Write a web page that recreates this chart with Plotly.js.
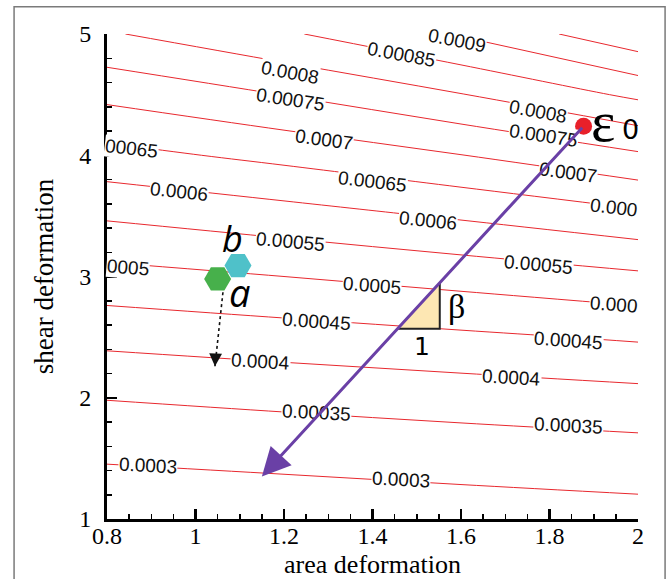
<!DOCTYPE html>
<html>
<head>
<meta charset="utf-8">
<script src="https://cdn.plot.ly/plotly-3.0.1.min.js"></script>
<style>html,body{margin:0;padding:0;background:#fff;}#chart{width:669px;height:579px;}</style>
</head>
<body>
<div id="chart"></div>
<script>
const xGrid = [0.8, 1.2, 1.6, 2.0];
const yGrid = [1.0, 1.5, 2.0, 2.5, 3.0, 3.5, 4.0, 4.5, 5.0];
const zGrid = [
  [2.62e-4, 2.69e-4, 2.75e-4, 2.82e-4],
  [3.04e-4, 3.11e-4, 3.19e-4, 3.26e-4],
  [3.52e-4, 3.62e-4, 3.72e-4, 3.83e-4],
  [4.14e-4, 4.27e-4, 4.41e-4, 4.56e-4],
  [4.83e-4, 5.00e-4, 5.19e-4, 5.41e-4],
  [5.56e-4, 5.79e-4, 6.06e-4, 6.38e-4],
  [6.34e-4, 6.64e-4, 6.99e-4, 7.43e-4],
  [7.13e-4, 7.51e-4, 7.98e-4, 8.60e-4],
  [7.95e-4, 8.43e-4, 9.04e-4, 9.87e-4]
];
const levelStart = 0.0003, levelEnd = 0.00095, levelStep = 0.00005;

// Contour label texts as printed on the figure (some are cut by the axes)
const contourLabelTexts = [
  '0.0003', '0.0003', '0.00035', '0.00035', '0.0004', '0.0004',
  '0.00045', '0.00045', '0005', '0.0005', '0.000', '0.00055', '0.00055',
  '0.0006', '0.0006', '00065', '0.00065', '0.000', '0.0007', '0.0007',
  '0.00075', '0.00075', '0.0008', '0.0008', '0.00085', '0.0009'
];

// Markers
const eps0X = [1.877], eps0Y = [4.24];
const pointAX = [1.05], pointAY = [2.98];
const pointBX = [1.096], pointBY = [3.09];
// dotted arrow from a (tail, tip)
const dotArrowX = [1.062, 1.044], dotArrowY = [2.87, 2.26];
// purple arrow (tail at eps0, tip)
const arrowStart = [1.877, 4.24], arrowEnd = [1.15, 1.35];
// slope triangle
const triX = [1.457, 1.552, 1.552, 1.457];
const triY = [2.57, 2.57, 2.948, 2.57];
const triEdgeX = [1.457, 1.552, 1.552];
const triEdgeY = [2.57, 2.57, 2.948];

// placement of the contour labels: [x, y, angle]
const labelPlacement = [
  [0.893, 1.445, 3], [1.464, 1.322, 3],
  [1.274, 1.882, 3], [1.842, 1.775, 3],
  [1.148, 2.295, 3.3], [1.715, 2.171, 3.3],
  [1.274, 2.625, 4], [1.842, 2.476, 4],
  [0.848, 3.078, 4.4], [1.399, 2.922, 4.4], [1.946, 2.773, 4.4],
  [1.214, 3.285, 5.2], [1.774, 3.095, 5.2],
  [0.962, 3.697, 6], [1.526, 3.466, 6],
  [0.855, 4.053, 6.7], [1.401, 3.780, 6.7], [1.946, 3.570, 6.7],
  [1.290, 4.128, 7.8], [1.842, 3.854, 7.8],
  [1.214, 4.456, 8.7], [1.786, 4.160, 8.7],
  [1.214, 4.686, 10.5], [1.774, 4.360, 10.5],
  [1.466, 4.827, 10.5], [1.591, 4.950, 11]
];

const traces = [
  {
    type: 'contour', x: xGrid, y: yGrid, z: zGrid,
    autocontour: false,
    contours: {start: levelStart, end: levelEnd, size: levelStep, coloring: 'none', showlabels: false},
    line: {color: '#e8282e', width: 1, smoothing: 1},
    showscale: false, hoverinfo: 'skip'
  },
  {
    type: 'scatter', mode: 'lines', x: triX, y: triY, fill: 'toself',
    fillcolor: '#fde7b3', line: {width: 0}, hoverinfo: 'skip'
  },
  {
    type: 'scatter', mode: 'lines', x: triEdgeX, y: triEdgeY,
    line: {color: '#222', width: 2}, hoverinfo: 'skip'
  },
  {
    type: 'scatter', mode: 'lines', x: dotArrowX, y: dotArrowY,
    line: {color: '#111', width: 1.6, dash: 'dot'},
    hoverinfo: 'skip'
  },
  {
    type: 'scatter', mode: 'markers', x: pointAX, y: pointAY,
    marker: {symbol: 'hexagon2', size: 27, color: '#47b04b'}, hoverinfo: 'skip'
  },
  {
    type: 'scatter', mode: 'markers', x: pointBX, y: pointBY,
    marker: {symbol: 'hexagon2', size: 27, color: '#4fc1c9'}, hoverinfo: 'skip'
  },
  {
    type: 'scatter', mode: 'markers', x: eps0X, y: eps0Y,
    marker: {symbol: 'circle', size: 17, color: '#e8202a'}, hoverinfo: 'skip'
  }
];

const labelAnnotations = contourLabelTexts.map((t, i) => ({
  x: labelPlacement[i][0], y: labelPlacement[i][1], xref: 'x', yref: 'y',
  text: t, showarrow: false, textangle: labelPlacement[i][2],
  bgcolor: '#ffffff', borderpad: 0,
  font: {family: 'Liberation Sans', size: 19, color: '#111'}
}));

const purple = '#6a40a6';
const layout = {
  width: 669, height: 579,
  margin: {l: 107, r: 31, t: 34, b: 60},
  paper_bgcolor: '#fff', plot_bgcolor: '#fff',
  showlegend: false,
  xaxis: {
    range: [0.8, 2.0], tick0: 0.8, dtick: 0.2, showgrid: false, zeroline: false,
    showline: true, linecolor: '#000', linewidth: 3,
    ticks: 'inside', ticklen: 10, tickwidth: 2.5, tickcolor: '#000',
    minor: {ticks: 'inside', ticklen: 5, tickwidth: 1.5, dtick: 0.05, tickcolor: '#000'},
    ticklabelstandoff: -7,
    tickfont: {family: 'Liberation Serif', size: 24, color: '#000'},
    title: {text: 'area deformation', font: {family: 'Liberation Serif', size: 26, color: '#000'}, standoff: 8}
  },
  yaxis: {
    range: [1, 5], tick0: 1, dtick: 1, showgrid: false, zeroline: false,
    showline: true, linecolor: '#000', linewidth: 3,
    ticks: 'inside', ticklen: 10, tickwidth: 2.5, tickcolor: '#000',
    minor: {ticks: 'inside', ticklen: 5, tickwidth: 1.5, dtick: 0.2, tickcolor: '#000'},
    ticklabelstandoff: 8,
    tickfont: {family: 'Liberation Serif', size: 24, color: '#000'},
    title: {text: 'shear deformation', font: {family: 'Liberation Serif', size: 27, color: '#000'}, standoff: 18}
  },
  shapes: [
    {type: 'rect', xref: 'paper', yref: 'paper', x0: -0.175, x1: 1.051, y0: -0.15, y1: 1.056,
     line: {color: '#7a7a7a', width: 1.5}}
  ],
  annotations: labelAnnotations.concat([
    {x: arrowEnd[0], y: arrowEnd[1], ax: arrowStart[0], ay: arrowStart[1], xref: 'x', yref: 'y',
     axref: 'x', ayref: 'y', text: '', showarrow: true, arrowhead: 2, arrowsize: 1.9,
     arrowwidth: 3, arrowcolor: purple},
    {x: dotArrowX[1], y: dotArrowY[1], ax: 0.6, ay: -12, xref: 'x', yref: 'y',
     text: '', showarrow: true, arrowhead: 2, arrowsize: 1.6, arrowwidth: 1.6, arrowcolor: '#111'},
    {x: 1.92, y: 4.28, xref: 'x', yref: 'y', text: 'ε', showarrow: false,
     font: {family: 'Liberation Serif', size: 58, color: '#000'}},
    {x: 1.983, y: 4.21, xref: 'x', yref: 'y', text: '0', showarrow: false,
     font: {family: 'DejaVu Sans', size: 27, color: '#000'}},
    {x: 1.084, y: 3.31, xref: 'x', yref: 'y', text: '<i>b</i>', showarrow: false,
     font: {family: 'Open Sans', size: 36, color: '#000'}},
    {x: 1.10, y: 2.87, xref: 'x', yref: 'y', text: '<i>a</i>', showarrow: false,
     font: {family: 'Open Sans', size: 38, color: '#000'}},
    {x: 1.59, y: 2.75, xref: 'x', yref: 'y', text: 'β', showarrow: false,
     font: {family: 'Liberation Serif', size: 34, color: '#000'}},
    {x: 1.511, y: 2.42, xref: 'x', yref: 'y', text: '1', showarrow: false,
     font: {family: 'DejaVu Sans', size: 25, color: '#000'}}
  ])
};

Plotly.newPlot('chart', traces, layout, {staticPlot: true, displayModeBar: false});
</script>
</body>
</html>
